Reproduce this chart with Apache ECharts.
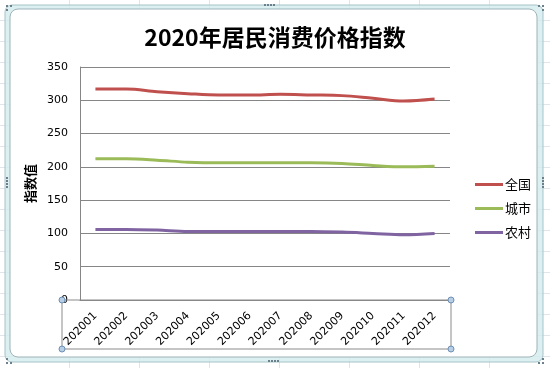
<!DOCTYPE html>
<html>
<head>
<meta charset="utf-8">
<script src="https://cdn.jsdelivr.net/npm/echarts@6/dist/echarts.min.js"></script>
<style>
  html, body { margin: 0; padding: 0; }
  body {
    width: 550px; height: 368px; overflow: hidden;
    background-color: #ffffff;
    background-image:
      repeating-linear-gradient(to right, transparent 0, transparent 69px, #dfe5ea 69px, #dfe5ea 70px),
      repeating-linear-gradient(to bottom, transparent 0, transparent 20px, #dfe5ea 20px, #dfe5ea 21px);
  }
  #chart { width: 550px; height: 368px; }
</style>
</head>
<body>
<div id="chart"></div>
<script>
const categories = ['202001','202002','202003','202004','202005','202006','202007','202008','202009','202010','202011','202012'];
const nationalValues = [317, 317, 313, 310, 308, 308, 309, 308, 307, 303, 299, 302];
const urbanValues = [212, 212, 210, 207, 206, 206, 206, 206, 205, 202, 200, 201];
const ruralValues = [106, 106, 105, 103, 103, 103, 103, 103, 102, 100, 98, 100];
const seriesNames = ['全国', '城市', '农村'];
const yTicks = { min: 0, max: 350, interval: 50 };

const chart = echarts.init(document.getElementById('chart'), null, { renderer: 'canvas' });

function handle(x, y) {
  return { type: 'circle', shape: { cx: x, cy: y, r: 3 }, style: { fill: '#b7cfe6', stroke: '#6f8fb3', lineWidth: 1 }, z: 100 };
}
function dots(x, y, horizontal) {
  const arr = [];
  for (let i = 0; i < 4; i++) {
    arr.push({ type: 'rect', shape: { x: horizontal ? x + i * 3 : x, y: horizontal ? y : y + i * 3, width: 2, height: 2 }, style: { fill: '#6b7f8c' }, z: 100 });
  }
  return arr;
}
function dot(x, y) {
  return { type: 'rect', shape: { x: x, y: y, width: 2, height: 2 }, style: { fill: '#6b7f8c' }, z: 100 };
}

const graphics = [
  { type: 'rect', shape: { x: 5, y: 5, width: 538, height: 357, r: 7 }, style: { fill: 'rgba(214,236,238,0.85)', stroke: '#a8c3c8', lineWidth: 1 }, z: -10 },
  { type: 'rect', shape: { x: 10, y: 9, width: 527, height: 348, r: 8 }, style: { fill: '#ffffff', stroke: '#9db3b8', lineWidth: 1 }, z: -9 },
  { type: 'rect', shape: { x: 62, y: 300, width: 389, height: 49 }, style: { fill: 'none', stroke: '#8a8a8a', lineWidth: 1 }, z: 50 },
  handle(62, 300), handle(451, 300), handle(62, 349), handle(451, 349)
].concat(dots(264, 4, true), dots(268, 360, true), dots(6, 177, false), dots(542, 177, false),
  [dot(6, 5), dot(10, 5), dot(6, 9), dot(538, 5), dot(542, 5), dot(542, 9),
   dot(6, 358), dot(6, 362), dot(10, 362), dot(542, 358), dot(542, 362), dot(538, 362)]);

const colors = ['#C0504D', '#9BBB59', '#8064A2'];
const lineSeries = [nationalValues, urbanValues, ruralValues].map((vals, i) => ({
  name: seriesNames[i],
  type: 'line',
  data: vals,
  smooth: 0.35,
  symbol: 'none',
  lineStyle: { color: colors[i], width: 3 },
  itemStyle: { color: colors[i] },
  z: 10
}));

chart.setOption({
  animation: false,
  backgroundColor: 'transparent',
  color: colors,
  graphic: graphics,
  title: {
    text: '2020年居民消费价格指数',
    left: 'center',
    top: 21,
    textStyle: { fontFamily: 'Noto Sans CJK SC', fontSize: 23, fontWeight: 'bold', color: '#000' }
  },
  legend: {
    orient: 'vertical',
    left: 470,
    top: 173,
    itemWidth: 28,
    itemHeight: 3,
    itemGap: 11,
    icon: 'rect',
    data: seriesNames,
    textStyle: { fontFamily: 'Noto Sans CJK SC', fontSize: 13, color: '#000', padding: [0, 0, 0, -3] }
  },
  grid: { left: 80, right: 100, top: 67, bottom: 68, containLabel: false },
  xAxis: {
    type: 'category',
    data: categories,
    boundaryGap: true,
    axisLine: { show: true, lineStyle: { color: '#868686' } },
    axisTick: { show: false },
    axisLabel: { rotate: 45, interval: 0, margin: 14, fontFamily: 'DejaVu Sans', fontSize: 11, color: '#000' }
  },
  yAxis: {
    type: 'value',
    min: yTicks.min,
    max: yTicks.max,
    interval: yTicks.interval,
    name: '指数值',
    nameLocation: 'middle',
    nameGap: 37,
    nameTextStyle: { fontFamily: 'Noto Sans CJK SC', fontSize: 13, fontWeight: 'bold', color: '#000' },
    axisLine: { show: true, lineStyle: { color: '#868686' } },
    axisTick: { show: false },
    axisLabel: { margin: 12, fontFamily: 'DejaVu Sans', fontSize: 11, color: '#000' },
    splitLine: { show: true, lineStyle: { color: '#868686', width: 1 } }
  },
  series: lineSeries
});
</script>
</body>
</html>
